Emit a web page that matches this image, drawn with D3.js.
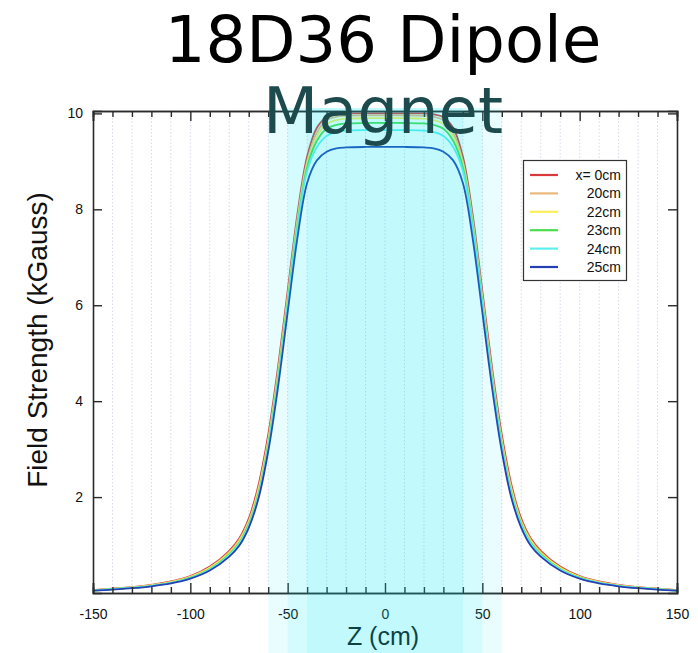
<!DOCTYPE html>
<html>
<head>
<meta charset="utf-8">
<script src="https://cdn.jsdelivr.net/npm/d3@7"></script>
<style>
  html, body { margin: 0; padding: 0; background: #fff; }
  svg { display: block; }
</style>
</head>
<body>
<svg id="chart" width="698" height="653"></svg>
<script>
// Longitudinal position along the magnet (cm)
const zPositions = [-150,-140,-130,-120,-110,-100,-90,-80,-75,-70,-65,-60,-55,-50,-45,-40,-35,-30,-25,-20,-10,
  0,10,20,25,30,35,40,45,50,55,60,65,70,75,80,90,100,110,120,130,140,150];

// Field strength (kGauss) at each transverse offset x
const field0 = [0.06,0.09,0.12,0.17,0.24,0.35,0.55,0.88,1.13,1.55,2.25,3.3,4.7,6.3,7.9,9.1,9.7,9.92,9.98,10.0,10.0,
  10.0,10.0,10.0,9.98,9.92,9.7,9.1,7.9,6.3,4.7,3.3,2.25,1.55,1.13,0.88,0.55,0.35,0.24,0.17,0.12,0.09,0.06];
const field20 = [0.06,0.09,0.12,0.16,0.23,0.34,0.53,0.85,1.1,1.5,2.18,3.2,4.6,6.2,7.8,9.0,9.6,9.86,9.93,9.95,9.96,
  9.96,9.96,9.95,9.93,9.86,9.6,9.0,7.8,6.2,4.6,3.2,2.18,1.5,1.1,0.85,0.53,0.34,0.23,0.16,0.12,0.09,0.06];
const field22 = [0.05,0.08,0.11,0.16,0.22,0.33,0.52,0.83,1.07,1.47,2.13,3.15,4.5,6.1,7.7,8.95,9.52,9.78,9.86,9.89,9.9,
  9.9,9.9,9.89,9.86,9.78,9.52,8.95,7.7,6.1,4.5,3.15,2.13,1.47,1.07,0.83,0.52,0.33,0.22,0.16,0.11,0.08,0.05];
const field23 = [0.05,0.08,0.11,0.15,0.21,0.32,0.5,0.81,1.04,1.44,2.08,3.1,4.45,6.05,7.65,8.88,9.43,9.68,9.76,9.79,9.8,
  9.8,9.8,9.79,9.76,9.68,9.43,8.88,7.65,6.05,4.45,3.1,2.08,1.44,1.04,0.81,0.5,0.32,0.21,0.15,0.11,0.08,0.05];
const field24 = [0.05,0.08,0.11,0.15,0.21,0.31,0.49,0.79,1.02,1.41,2.04,3.05,4.4,6.0,7.6,8.8,9.3,9.53,9.61,9.64,9.65,
  9.65,9.65,9.64,9.61,9.53,9.3,8.8,7.6,6.0,4.4,3.05,2.04,1.41,1.02,0.79,0.49,0.31,0.21,0.15,0.11,0.08,0.05];
const field25 = [0.05,0.07,0.10,0.14,0.20,0.30,0.47,0.76,0.98,1.36,1.97,2.95,4.28,5.85,7.4,8.55,9.02,9.2,9.27,9.29,9.3,
  9.3,9.3,9.29,9.27,9.2,9.02,8.55,7.4,5.85,4.28,2.95,1.97,1.36,0.98,0.76,0.47,0.30,0.20,0.14,0.10,0.07,0.05];

const seriesLabels = ["x= 0cm", "20cm", "22cm", "23cm", "24cm", "25cm"];
const seriesColors = ["#d8393a", "#e9b97c", "#fbee5a", "#4cdc4c", "#5ef0f0", "#2440b4"];
const seriesValues = [field0, field20, field22, field23, field24, field25];

const xTicksMajor = [-150, -100, -50, 0, 50, 100, 150];
const yTicks = [2, 4, 6, 8, 10];
// Shaded pole regions, half-widths in cm
const bandHalfWidths = [60, 50, 40];

const svg = d3.select("#chart");
const plot = { left: 93, right: 677, top: 111, bottom: 593 };
const sans = "Liberation Sans, Arial, sans-serif";

const x = d3.scaleLinear().domain([-150, 150]).range([plot.left, plot.right]);
const y = d3.scaleLinear().domain([0, 10.05]).range([plot.bottom, plot.top]);

// Title, first line
svg.append("text")
  .attr("x", 383).attr("y", 62).attr("text-anchor", "middle")
  .attr("font-family", "DejaVu Sans").attr("font-size", 64).attr("fill", "#000")
  .text("18D36 Dipole");

// Vertical dotted grid every 10 cm
const gridVals = d3.range(-140, 150, 10);
svg.append("g").selectAll("line").data(gridVals).join("line")
  .attr("x1", d => x(d)).attr("x2", d => x(d))
  .attr("y1", plot.top).attr("y2", plot.bottom)
  .attr("stroke", "#d9d9ec").attr("stroke-width", 1).attr("stroke-dasharray", "1.5,2");

// Field curves
const line = d3.line()
  .x((d, i) => x(zPositions[i]))
  .y(d => y(d))
  .curve(d3.curveCatmullRom.alpha(0.5));

svg.append("g").selectAll("path").data(seriesValues).join("path")
  .attr("d", d => line(d))
  .attr("fill", "none")
  .attr("stroke", (d, i) => seriesColors[i])
  .attr("stroke-width", 1.8);

// Axes with inward ticks
const fmt = d => d3.format("d")(d).replace("−", "-");
const xMinor = d3.range(-140, 150, 10).filter(d => d % 50 !== 0);

const gb = svg.append("g").attr("transform", `translate(0,${plot.bottom})`)
  .call(d3.axisBottom(x).tickValues(xTicksMajor).tickSize(-10).tickPadding(16).tickFormat(fmt));
const gbm = svg.append("g").attr("transform", `translate(0,${plot.bottom})`)
  .call(d3.axisBottom(x).tickValues(xMinor).tickSize(-6).tickFormat(""));
const gt = svg.append("g").attr("transform", `translate(0,${plot.top})`)
  .call(d3.axisTop(x).tickValues(xTicksMajor).tickSize(-10).tickFormat(""));
const gtm = svg.append("g").attr("transform", `translate(0,${plot.top})`)
  .call(d3.axisTop(x).tickValues(xMinor).tickSize(-6).tickFormat(""));
const gl = svg.append("g").attr("transform", `translate(${plot.left},0)`)
  .call(d3.axisLeft(y).tickValues(yTicks).tickSize(-9).tickPadding(18));
const gr = svg.append("g").attr("transform", `translate(${plot.right},0)`)
  .call(d3.axisRight(y).tickValues(yTicks).tickSize(-9).tickFormat(""));

[gb, gbm, gt, gtm, gl, gr].forEach(g => {
  g.select(".domain").attr("stroke", "#2a2a2a").attr("stroke-width", 1.6);
  g.selectAll(".tick line").attr("stroke", "#2a2a2a").attr("stroke-width", 1.4);
  g.selectAll(".tick text").attr("font-family", sans).attr("font-size", 14).attr("fill", "#111");
});
gl.selectAll(".tick text").attr("dx", 8);

// Axis titles
svg.append("text")
  .attr("transform", `translate(47,${340}) rotate(-90)`)
  .attr("text-anchor", "middle")
  .attr("font-family", sans).attr("font-size", 28)
  .attr("fill", "#111").text("Field Strength (kGauss)");
svg.append("text")
  .attr("x", 383).attr("y", 645).attr("text-anchor", "middle")
  .attr("font-family", sans).attr("font-size", 25)
  .attr("fill", "#111").text("Z (cm)");

// Legend
const lg = svg.append("g");
lg.append("rect").attr("x", 523.5).attr("y", 160.5).attr("width", 103).attr("height", 120)
  .attr("fill", "#fff").attr("stroke", "#333").attr("stroke-width", 1.2);
seriesLabels.forEach((lab, i) => {
  const yy = 175 + i * 18.4;
  lg.append("line").attr("x1", 530).attr("x2", 558).attr("y1", yy).attr("y2", yy)
    .attr("stroke", seriesColors[i]).attr("stroke-width", 2.2);
  lg.append("text").attr("x", 621).attr("y", yy + 5).attr("text-anchor", "end")
    .attr("font-family", sans).attr("font-size", 14)
    .attr("fill", "#111").text(lab);
});

// Translucent cyan overlays marking the pole regions
svg.append("g").selectAll("rect").data(bandHalfWidths).join("rect")
  .attr("x", d => x(-d)).attr("width", d => x(d) - x(-d))
  .attr("y", 108).attr("height", 653 - 108)
  .attr("fill", "#00e5ee").attr("fill-opacity", 0.085);

// Title, second line, laid over the plot
svg.append("text")
  .attr("x", 383).attr("y", 133).attr("text-anchor", "middle")
  .attr("font-family", "DejaVu Sans").attr("font-size", 64).attr("fill", "#1d4a4c")
  .text("Magnet");
</script>
</body>
</html>
